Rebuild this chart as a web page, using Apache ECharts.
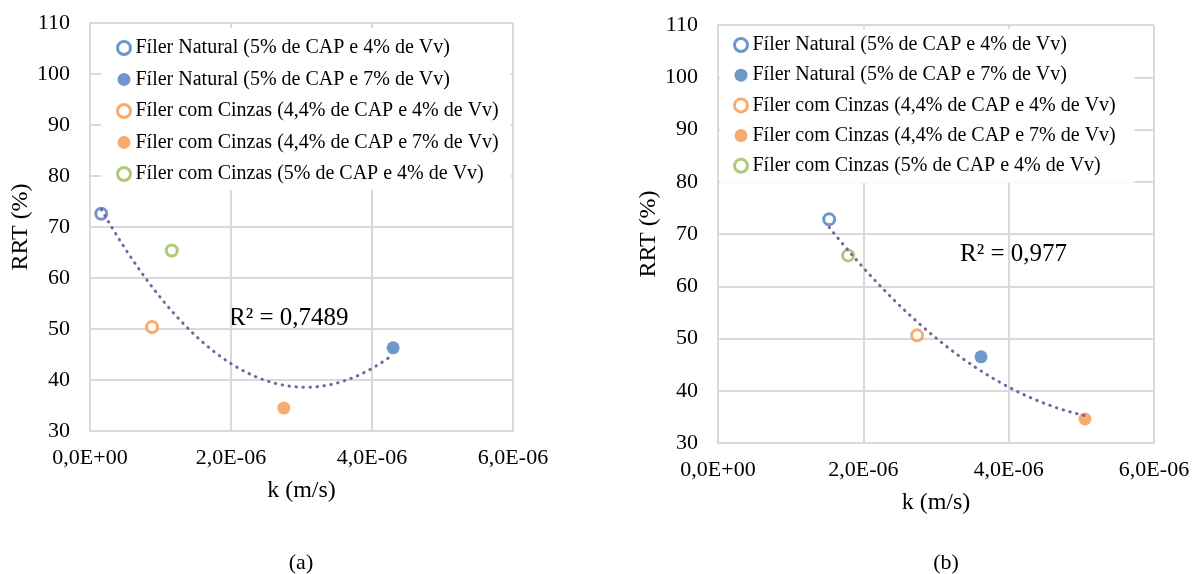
<!DOCTYPE html>
<html>
<head>
<meta charset="utf-8">
<script src="https://cdn.jsdelivr.net/npm/echarts@6/dist/echarts.min.js"></script>
<style>
  html, body { margin: 0; padding: 0; background: #ffffff; }
  #chart { width: 1194px; height: 574px; }
</style>
</head>
<body>
<div id="chart"></div>
<script>
// ---------------- DATA ----------------
const seriesNames = [
  'Fíler Natural (5% de CAP e 4% de Vv)',
  'Fíler Natural (5% de CAP e 7% de Vv)',
  'Fíler com Cinzas (4,4% de CAP e 4% de Vv)',
  'Fíler com Cinzas (4,4% de CAP e 7% de Vv)',
  'Fíler com Cinzas (5% de CAP e 4% de Vv)'
];
// chart (a)
const kA   = [1.6e-7, 4.30e-6, 8.8e-7, 2.75e-6, 1.16e-6];
const rrtA = [72.6,   46.3,    50.4,   34.5,    65.4];
// chart (b)
const kB   = [1.53e-6, 3.62e-6, 2.74e-6, 5.05e-6, 1.79e-6];
const rrtB = [72.8,    46.5,    50.6,    34.6,    65.9];

const r2TextA = 'R² = 0,7489';
const r2TextB = 'R² = 0,977';
const captionA = '(a)';
const captionB = '(b)';
const xAxisTitle = 'k (m/s)';
const yAxisTitle = 'RRT (%)';

// ---------------- STYLES ----------------
const FONT = "'Liberation Serif','Times New Roman',serif";
const colors = ['#4A7EBB', '#4A7EBB', '#F79646', '#F79646', '#9BBB59'];
const filled = [false, true, false, true, false];
const trendColor = '#7E60A0';
const gridColor = '#D9D9D9';
const textColor = '#000000';

// polynomial (order 2) least squares trendline, like the spreadsheet trendline
function quadFit(xs, ys) {
  const s = 1e6;
  const x = xs.map(v => v * s);
  let S = [0,0,0,0,0], T = [0,0,0];
  for (let i = 0; i < x.length; i++) {
    let p = 1;
    for (let k = 0; k < 5; k++) { S[k] += p; if (k < 3) T[k] += p * ys[i]; p *= x[i]; }
  }
  const M = [[S[0],S[1],S[2],T[0]],[S[1],S[2],S[3],T[1]],[S[2],S[3],S[4],T[2]]];
  for (let c = 0; c < 3; c++) {
    for (let r = c + 1; r < 3; r++) {
      const f = M[r][c] / M[c][c];
      for (let k = c; k < 4; k++) M[r][k] -= f * M[c][k];
    }
  }
  const sol = [0,0,0];
  for (let r = 2; r >= 0; r--) {
    let v = M[r][3];
    for (let k = r + 1; k < 3; k++) v -= M[r][k] * sol[k];
    sol[r] = v / M[r][r];
  }
  const lo = Math.min(...x), hi = Math.max(...x);
  const pts = [];
  const n = 80;
  for (let i = 0; i <= n; i++) {
    const xv = lo + (hi - lo) * i / n;
    pts.push([xv / s, sol[0] + sol[1] * xv + sol[2] * xv * xv]);
  }
  return pts;
}

function fmtSci(v) {
  let str = Number(v).toExponential(1); // e.g. 2.0e-6
  let [m, e] = str.split('e');
  let sign = e[0] === '-' ? '-' : '+';
  let d = e.replace(/[+-]/, '');
  if (d.length < 2) d = '0' + d;
  return m.replace('.', ',') + 'E' + sign + d;
}

function makeAxes(gridIdx) {
  const xAxis = {
    type: 'value', gridIndex: gridIdx, min: 0, max: 6e-6, interval: 2e-6,
    name: xAxisTitle, nameLocation: 'middle', nameGap: 48,
    nameTextStyle: { fontFamily: FONT, fontSize: 24, color: textColor },
    axisLine: { show: true, lineStyle: { color: gridColor, width: 2 } },
    axisTick: { show: false },
    splitLine: { show: true, lineStyle: { color: gridColor, width: 2 } },
    axisLabel: { fontFamily: FONT, fontSize: 22, color: textColor, margin: 16, formatter: fmtSci }
  };
  const yAxis = {
    type: 'value', gridIndex: gridIdx, min: 30, max: 110, interval: 10,
    name: yAxisTitle, nameLocation: 'middle', nameGap: 54, nameRotate: 90,
    nameTextStyle: { fontFamily: FONT, fontSize: 24, color: textColor },
    axisLine: { show: true, lineStyle: { color: gridColor, width: 2 } },
    axisTick: { show: false },
    splitLine: { show: true, lineStyle: { color: gridColor, width: 2 } },
    axisLabel: { fontFamily: FONT, fontSize: 22, color: textColor, margin: 20 }
  };
  return { xAxis, yAxis };
}

function makeSeries(ks, rrts, axisIdx) {
  const out = [];
  out.push({
    type: 'line', xAxisIndex: axisIdx, yAxisIndex: axisIdx,
    data: quadFit(ks, rrts), showSymbol: false, symbol: 'none', silent: true,
    lineStyle: { color: trendColor, width: 3, type: [0.5, 6.5], cap: 'round' },
    z: 3
  });
  for (let i = 0; i < seriesNames.length; i++) {
    out.push({
      type: 'scatter', name: seriesNames[i], xAxisIndex: axisIdx, yAxisIndex: axisIdx,
      data: [[ks[i], rrts[i]]],
      symbol: 'circle',
      symbolSize: filled[i] ? 13 : 11,
      itemStyle: filled[i]
        ? { color: colors[i] }
        : { color: '#ffffff', borderColor: colors[i], borderWidth: 3 },
      z: 2
    });
  }
  return out;
}

const a0 = makeAxes(0), a1 = makeAxes(1);

const legendData = seriesNames.map((n, i) => ({
  name: n,
  itemStyle: filled[i]
    ? { color: colors[i], borderWidth: 0 }
    : { color: '#ffffff', borderColor: colors[i], borderWidth: 3 }
}));

const legendBase = {
  orient: 'vertical', backgroundColor: '#ffffff', selectedMode: false,
  itemWidth: 13, itemHeight: 13,
  textStyle: { fontFamily: FONT, fontSize: 20, lineHeight: 20, color: textColor },
  data: legendData
};

const option = {
  animation: false,
  backgroundColor: '#ffffff',
  grid: [
    { left: 90, top: 23, width: 423, height: 408, show: false },
    { left: 718, top: 25, width: 436, height: 418, show: false }
  ],
  xAxis: [a0.xAxis, a1.xAxis],
  yAxis: [a0.yAxis, a1.yAxis],
  legend: [
    Object.assign({}, legendBase, { left: 101, top: 28, itemGap: 11.5, padding: [10, 12, 6, 15], z: 10 }),
    Object.assign({}, legendBase, { left: 720, top: 29, itemGap: 10.2, padding: [6, 19, 7, 13], z: 10 })
  ],
  series: makeSeries(kA, rrtA, 0).concat(makeSeries(kB, rrtB, 1)),
  graphic: [
    { type: 'text', left: 229, top: 306, style: { text: r2TextA, font: '25px ' + FONT, fill: textColor } },
    { type: 'text', left: 960, top: 242, style: { text: r2TextB, font: '25px ' + FONT, fill: textColor } },
    { type: 'text', x: 301, y: 563, style: { text: captionA, font: '22px ' + FONT, fill: textColor, align: 'center', verticalAlign: 'middle' } },
    { type: 'text', x: 946, y: 563, style: { text: captionB, font: '22px ' + FONT, fill: textColor, align: 'center', verticalAlign: 'middle' } }
  ]
};

const chart = echarts.init(document.getElementById('chart'), null, { renderer: 'canvas' });
chart.setOption(option);
</script>
</body>
</html>
